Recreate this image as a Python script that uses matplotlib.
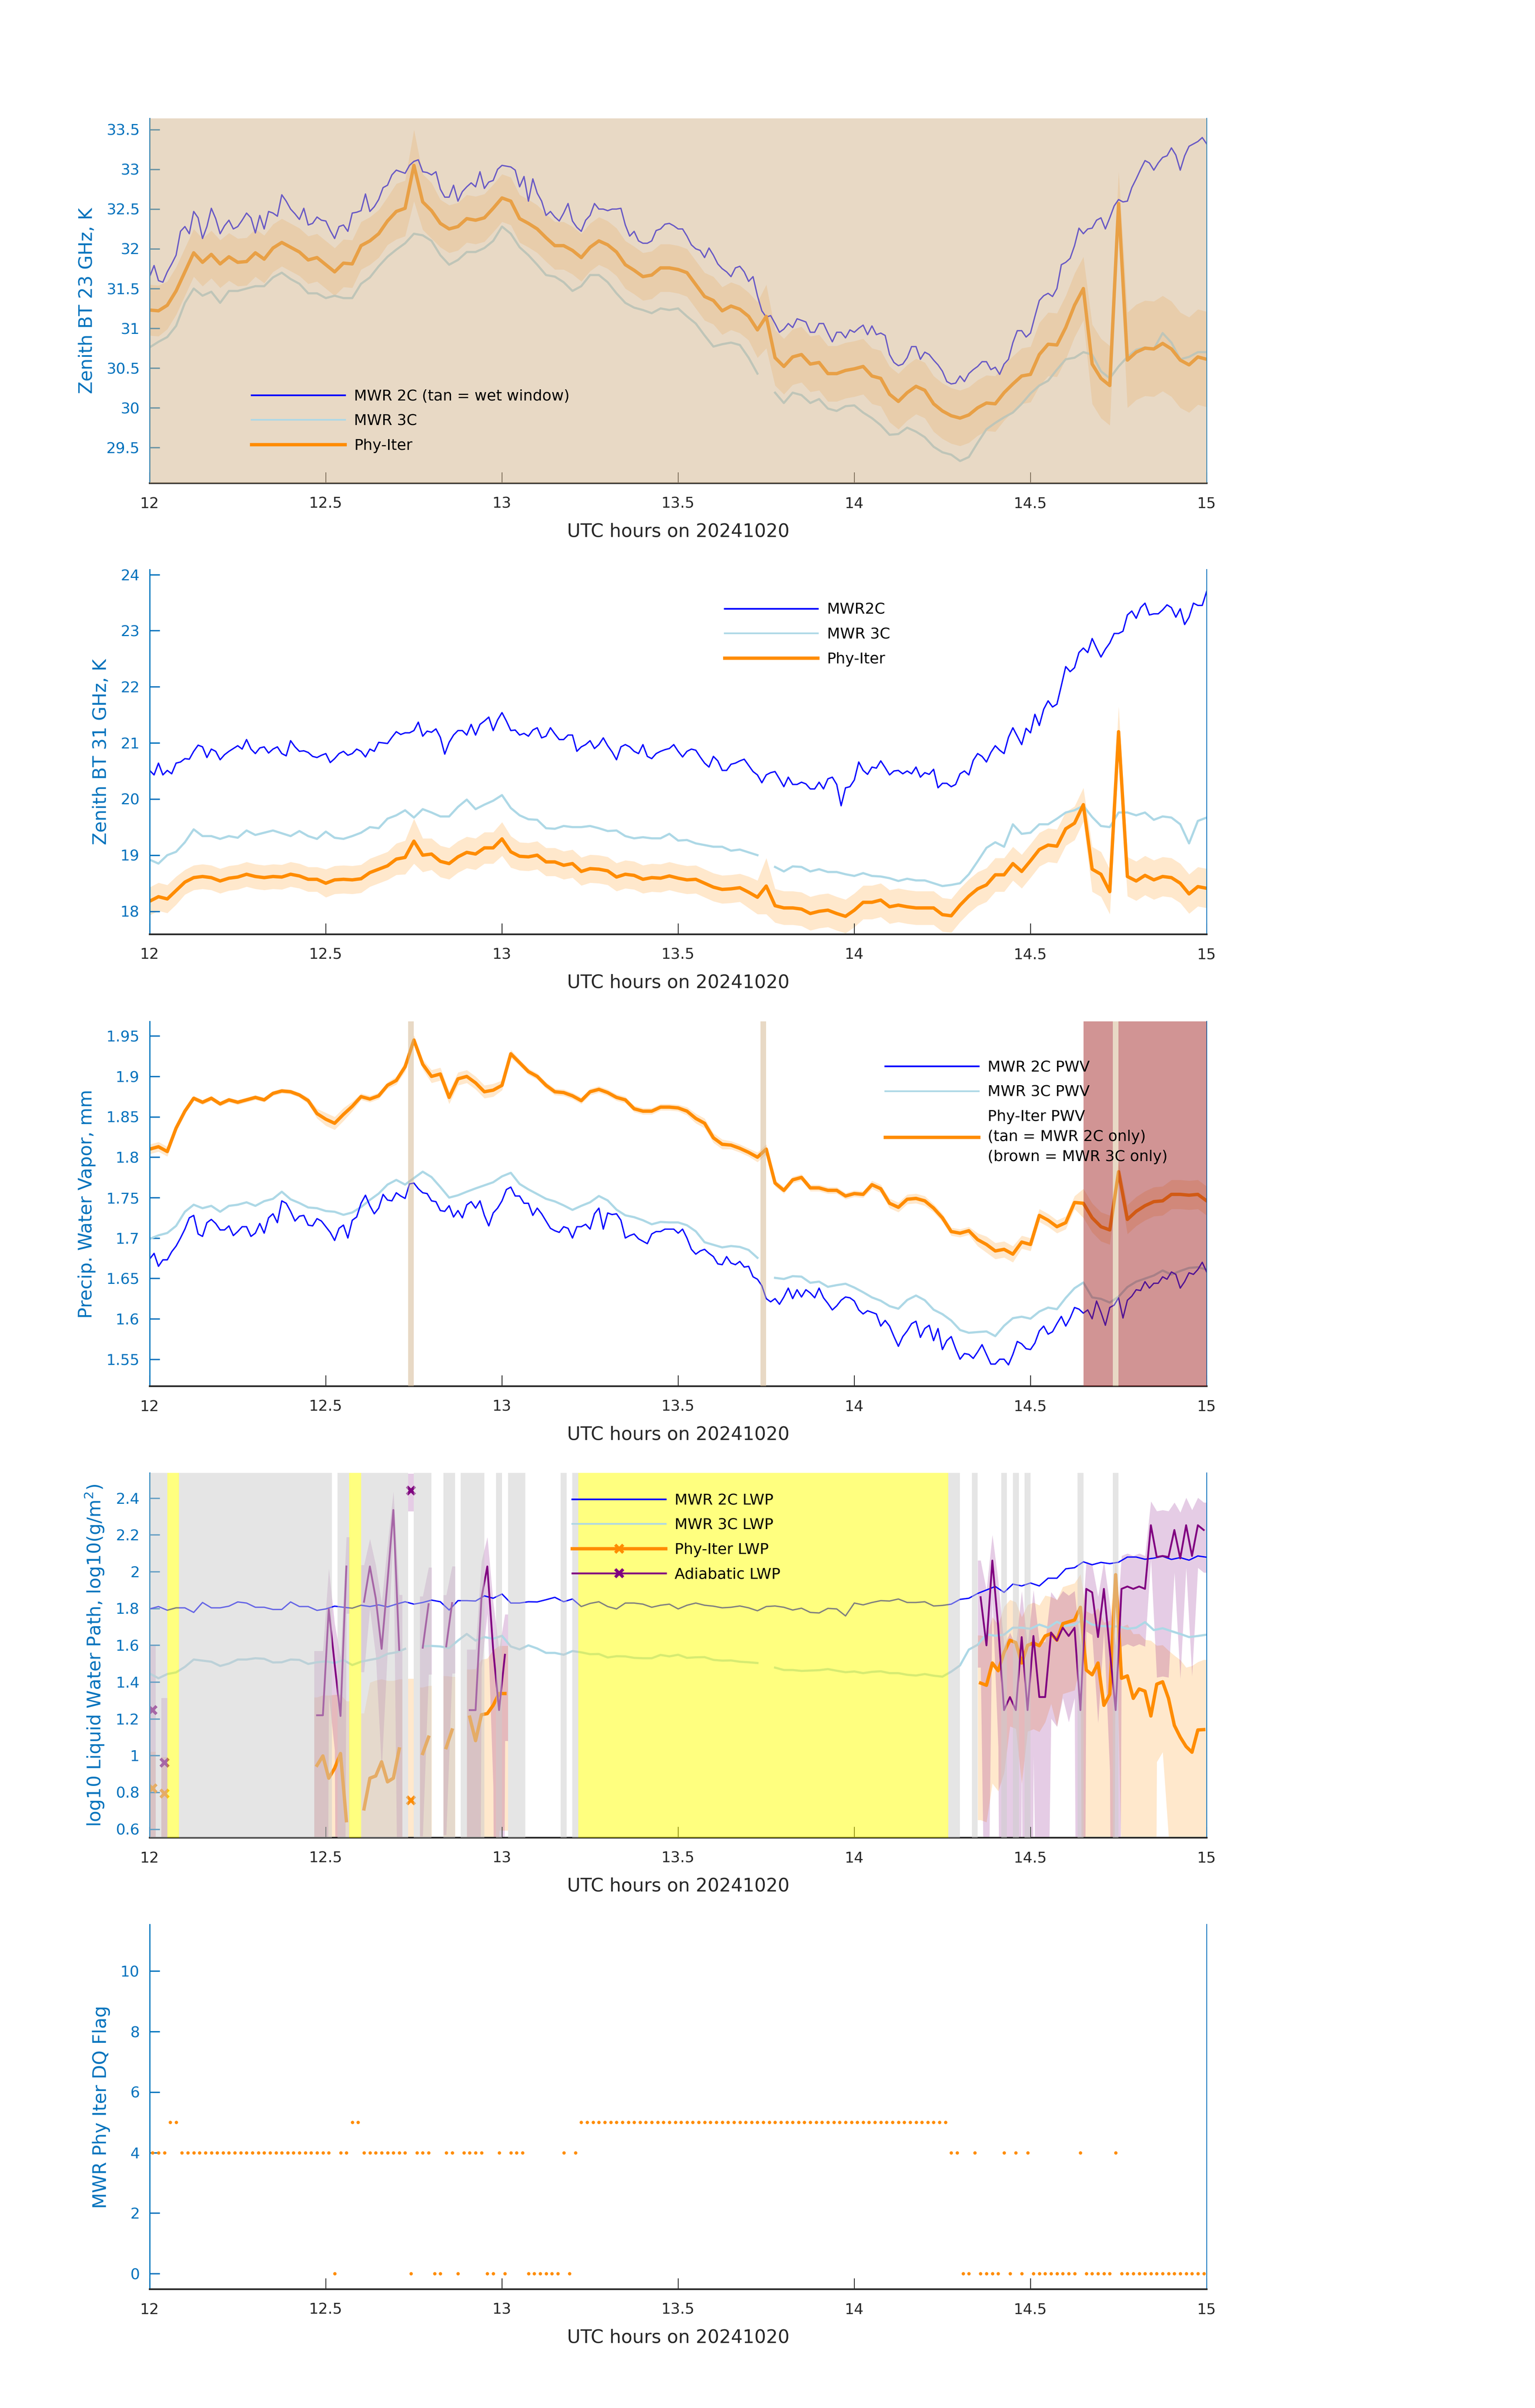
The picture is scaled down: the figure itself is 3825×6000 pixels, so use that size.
import numpy as np
import matplotlib
matplotlib.use("Agg")
import matplotlib.pyplot as plt
from matplotlib.lines import Line2D
from matplotlib.ticker import FuncFormatter

plt.rcParams['font.family'] = ['DejaVu Sans']

# ======================= DATA =======================
# Most traces sampled every 0.025 h (121 samples); the MWR 2C BT/PWV traces every 0.0125 h (241)
hours_grid = np.linspace(12.0, 15.0, 121)
hours_fine = np.linspace(12.0, 15.0, 241)

# ---- Panel 1 : zenith BT 23 GHz (K)
p1_mwr2c = [31.65, 31.79, 31.60, 31.58, 31.71, 31.81, 31.92, 32.22, 32.28, 32.19, 32.47, 32.39, 32.13, 32.28, 32.51, 32.38, 32.19, 32.29, 32.36, 32.25,
            32.28, 32.36, 32.45, 32.39, 32.20, 32.42, 32.25, 32.47, 32.45, 32.41, 32.68, 32.60, 32.50, 32.44, 32.37, 32.51, 32.30, 32.32, 32.40, 32.36,
            32.35, 32.23, 32.13, 32.28, 32.30, 32.22, 32.45, 32.46, 32.48, 32.69, 32.47, 32.53, 32.62, 32.77, 32.80, 32.93, 32.99, 32.97, 32.95, 33.05,
            33.10, 33.12, 32.97, 32.96, 32.93, 32.97, 32.75, 32.65, 32.65, 32.80, 32.60, 32.72, 32.78, 32.83, 32.78, 32.97, 32.76, 32.84, 32.86, 33.00,
            33.05, 33.04, 33.03, 32.99, 32.78, 32.91, 32.60, 32.88, 32.70, 32.60, 32.42, 32.47, 32.40, 32.35, 32.45, 32.57, 32.35, 32.27, 32.22, 32.36,
            32.42, 32.57, 32.50, 32.50, 32.48, 32.50, 32.50, 32.51, 32.30, 32.16, 32.22, 32.10, 32.07, 32.07, 32.10, 32.23, 32.25, 32.31, 32.32, 32.29,
            32.25, 32.25, 32.16, 32.05, 32.00, 31.98, 31.89, 32.01, 31.92, 31.81, 31.75, 31.71, 31.65, 31.76, 31.78, 31.71, 31.59, 31.65, 31.41, 31.22,
            31.14, 31.16, 31.06, 30.95, 30.99, 31.06, 31.01, 31.12, 31.10, 31.08, 30.95, 30.95, 31.06, 31.06, 30.94, 30.83, 30.95, 30.95, 30.88, 30.98,
            30.95, 31.00, 31.04, 30.92, 31.03, 30.92, 30.94, 30.91, 30.67, 30.57, 30.53, 30.55, 30.63, 30.77, 30.77, 30.61, 30.70, 30.67, 30.60, 30.54,
            30.46, 30.33, 30.30, 30.31, 30.40, 30.33, 30.43, 30.48, 30.52, 30.58, 30.58, 30.48, 30.51, 30.42, 30.55, 30.61, 30.82, 30.97, 30.97, 30.89,
            30.94, 31.15, 31.35, 31.41, 31.44, 31.40, 31.50, 31.80, 31.83, 31.88, 32.04, 32.26, 32.19, 32.25, 32.26, 32.36, 32.39, 32.25, 32.39, 32.54,
            32.62, 32.59, 32.60, 32.77, 32.88, 33.00, 33.11, 33.08, 32.99, 33.08, 33.15, 33.17, 33.27, 33.18, 32.99, 33.17, 33.29, 33.32, 33.35, 33.40,
            33.32]
p1_mwr3c = [30.76, 30.83, 30.89, 31.03, 31.32, 31.50, 31.41, 31.46, 31.32, 31.47,
            31.47, 31.50, 31.53, 31.53, 31.64, 31.70, 31.62, 31.56, 31.44, 31.44,
            31.38, 31.41, 31.38, 31.38, 31.56, 31.64, 31.78, 31.90, 31.99, 32.07,
            32.19, 32.17, 32.10, 31.92, 31.80, 31.86, 31.96, 31.96, 32.01, 32.10,
            32.28, 32.19, 32.02, 31.92, 31.80, 31.67, 31.65, 31.58, 31.47, 31.53,
            31.67, 31.67, 31.58, 31.44, 31.32, 31.26, 31.23, 31.19, 31.25, 31.23,
            31.25, 31.15, 31.06, 30.91, 30.77, 30.80, 30.82, 30.79, 30.63, 30.43,
            np.nan, 30.19, 30.06, 30.19, 30.16, 30.06, 30.11, 29.99, 29.96, 30.02,
            30.03, 29.94, 29.87, 29.78, 29.66, 29.67, 29.75, 29.70, 29.63, 29.51,
            29.44, 29.41, 29.33, 29.38, 29.56, 29.73, 29.81, 29.88, 29.94, 30.05,
            30.18, 30.28, 30.34, 30.48, 30.61, 30.63, 30.70, 30.67, 30.46, 30.37,
            30.52, 30.64, 30.73, 30.76, 30.74, 30.94, 30.82, 30.61, 30.64, 30.70, 30.70]
p1_phy = [31.23, 31.22, 31.29, 31.47, 31.71, 31.95, 31.83, 31.93, 31.81, 31.90,
          31.83, 31.84, 31.95, 31.87, 32.01, 32.08, 32.02, 31.96, 31.86, 31.89,
          31.80, 31.71, 31.82, 31.81, 32.04, 32.10, 32.19, 32.35, 32.47, 32.51,
          33.05, 32.59, 32.48, 32.32, 32.25, 32.28, 32.38, 32.36, 32.39, 32.51,
          32.64, 32.60, 32.38, 32.32, 32.25, 32.14, 32.04, 32.04, 31.98, 31.89,
          32.02, 32.10, 32.05, 31.96, 31.80, 31.73, 31.65, 31.67, 31.76, 31.76,
          31.74, 31.70, 31.55, 31.40, 31.35, 31.22, 31.28, 31.24, 31.15, 30.98,
          31.15, 30.63, 30.52, 30.64, 30.67, 30.55, 30.57, 30.43, 30.43, 30.47,
          30.49, 30.52, 30.40, 30.37, 30.17, 30.08, 30.19, 30.27, 30.22, 30.05,
          29.96, 29.90, 29.87, 29.91, 30.00, 30.06, 30.05, 30.19, 30.30, 30.40,
          30.42, 30.67, 30.80, 30.79, 31.01, 31.29, 31.50, 30.55, 30.37, 30.28,
          32.57, 30.60, 30.70, 30.75, 30.74, 30.81, 30.74, 30.60, 30.54, 30.64, 30.61]
p1_phy_err = [0.32, 0.32, 0.30, 0.30, 0.30, 0.30, 0.30, 0.30, 0.30, 0.30,
              0.30, 0.30, 0.30, 0.30, 0.30, 0.30, 0.30, 0.30, 0.30, 0.30,
              0.30, 0.30, 0.30, 0.30, 0.30, 0.30, 0.30, 0.30, 0.35, 0.35,
              0.45, 0.35, 0.35, 0.30, 0.30, 0.30, 0.30, 0.30, 0.30, 0.30,
              0.30, 0.30, 0.30, 0.30, 0.30, 0.30, 0.30, 0.30, 0.30, 0.30,
              0.30, 0.30, 0.30, 0.30, 0.30, 0.30, 0.30, 0.30, 0.30, 0.30,
              0.30, 0.30, 0.30, 0.30, 0.30, 0.30, 0.30, 0.30, 0.30, 0.35,
              0.40, 0.35, 0.35, 0.35, 0.35, 0.35, 0.35, 0.35, 0.35, 0.35,
              0.35, 0.35, 0.35, 0.35, 0.35, 0.35, 0.35, 0.35, 0.35, 0.35,
              0.35, 0.35, 0.35, 0.35, 0.35, 0.35, 0.35, 0.35, 0.35, 0.35,
              0.35, 0.40, 0.40, 0.40, 0.40, 0.40, 0.40, 0.50, 0.50, 0.50,
              0.40, 0.60, 0.60, 0.60, 0.60, 0.60, 0.60, 0.60, 0.60, 0.60, 0.60]

# ---- Panel 2 : zenith BT 31 GHz (K)
p2_mwr2c = [20.51, 20.43, 20.64, 20.43, 20.51, 20.45, 20.64, 20.66, 20.72, 20.71, 20.85, 20.96, 20.93, 20.74, 20.89, 20.85, 20.70, 20.79, 20.85, 20.90,
            20.95, 20.89, 21.06, 20.89, 20.81, 20.91, 20.93, 20.82, 20.89, 20.93, 20.81, 20.77, 21.04, 20.93, 20.85, 20.86, 20.83, 20.76, 20.74, 20.78,
            20.81, 20.65, 20.72, 20.81, 20.85, 20.78, 20.81, 20.89, 20.85, 20.75, 20.89, 20.85, 21.01, 21.00, 20.99, 21.10, 21.20, 21.15, 21.18, 21.18,
            21.22, 21.37, 21.12, 21.21, 21.19, 21.25, 21.10, 20.80, 21.01, 21.14, 21.22, 21.22, 21.14, 21.33, 21.14, 21.33, 21.39, 21.46, 21.22, 21.41,
            21.54, 21.39, 21.22, 21.23, 21.14, 21.17, 21.12, 21.23, 21.27, 21.09, 21.12, 21.27, 21.16, 21.06, 21.06, 21.14, 21.14, 20.85, 20.93, 20.97,
            21.04, 20.90, 20.97, 21.09, 20.95, 20.84, 20.70, 20.93, 20.97, 20.93, 20.85, 20.81, 20.97, 20.76, 20.72, 20.81, 20.85, 20.88, 20.90, 20.97,
            20.85, 20.75, 20.85, 20.89, 20.87, 20.75, 20.64, 20.57, 20.76, 20.68, 20.51, 20.51, 20.62, 20.64, 20.68, 20.71, 20.60, 20.49, 20.43, 20.29,
            20.43, 20.47, 20.49, 20.36, 20.22, 20.39, 20.26, 20.26, 20.30, 20.27, 20.18, 20.18, 20.30, 20.18, 20.36, 20.39, 20.26, 19.88, 20.20, 20.22,
            20.34, 20.66, 20.51, 20.44, 20.57, 20.55, 20.68, 20.56, 20.43, 20.50, 20.51, 20.45, 20.50, 20.45, 20.57, 20.39, 20.47, 20.44, 20.53, 20.20,
            20.28, 20.28, 20.22, 20.26, 20.45, 20.50, 20.43, 20.69, 20.81, 20.76, 20.66, 20.83, 20.95, 20.87, 20.81, 21.10, 21.27, 21.12, 20.97, 21.26,
            21.18, 21.51, 21.31, 21.60, 21.75, 21.64, 21.69, 22.02, 22.36, 22.27, 22.34, 22.61, 22.69, 22.61, 22.86, 22.69, 22.53, 22.67, 22.78, 22.95,
            22.95, 22.99, 23.28, 23.35, 23.22, 23.41, 23.49, 23.28, 23.30, 23.30, 23.37, 23.46, 23.41, 23.24, 23.39, 23.11, 23.24, 23.49, 23.45, 23.45,
            23.70]
p2_mwr3c = [18.92, 18.85, 19.00, 19.06, 19.23, 19.46, 19.34, 19.34, 19.29, 19.34,
            19.31, 19.44, 19.36, 19.40, 19.44, 19.39, 19.34, 19.43, 19.34, 19.29,
            19.42, 19.31, 19.29, 19.34, 19.40, 19.50, 19.48, 19.65, 19.71, 19.80,
            19.67, 19.82, 19.76, 19.69, 19.69, 19.86, 19.99, 19.82, 19.90, 19.97,
            20.07, 19.84, 19.71, 19.64, 19.63, 19.48, 19.47, 19.52, 19.50, 19.50,
            19.52, 19.48, 19.43, 19.44, 19.34, 19.30, 19.32, 19.30, 19.30, 19.38,
            19.26, 19.27, 19.21, 19.18, 19.15, 19.15, 19.08, 19.10, 19.05, 19.00,
            np.nan, 18.79, 18.71, 18.80, 18.79, 18.71, 18.75, 18.70, 18.70, 18.66,
            18.63, 18.68, 18.63, 18.62, 18.59, 18.54, 18.58, 18.55, 18.55, 18.50,
            18.45, 18.47, 18.50, 18.66, 18.89, 19.13, 19.23, 19.15, 19.55, 19.38,
            19.40, 19.55, 19.55, 19.65, 19.76, 19.80, 19.88, 19.68, 19.52, 19.50,
            19.76, 19.76, 19.71, 19.76, 19.63, 19.69, 19.67, 19.55, 19.21, 19.61, 19.67]
p2_phy = [18.18, 18.26, 18.22, 18.37, 18.52, 18.60, 18.62, 18.60, 18.54, 18.59,
          18.61, 18.66, 18.62, 18.60, 18.62, 18.61, 18.66, 18.63, 18.57, 18.57,
          18.50, 18.56, 18.57, 18.56, 18.58, 18.69, 18.75, 18.81, 18.93, 18.96,
          19.25, 19.00, 19.02, 18.89, 18.85, 18.97, 19.05, 19.02, 19.13, 19.13,
          19.29, 19.06, 18.98, 18.97, 19.00, 18.88, 18.88, 18.82, 18.85, 18.71,
          18.76, 18.75, 18.72, 18.61, 18.66, 18.64, 18.57, 18.60, 18.59, 18.63,
          18.59, 18.56, 18.57, 18.50, 18.43, 18.39, 18.40, 18.42, 18.34, 18.25,
          18.45, 18.10, 18.06, 18.06, 18.04, 17.96, 18.00, 18.02, 17.96, 17.91,
          18.02, 18.16, 18.16, 18.20, 18.08, 18.11, 18.08, 18.06, 18.06, 18.06,
          17.94, 17.92, 18.11, 18.27, 18.40, 18.47, 18.65, 18.65, 18.85, 18.71,
          18.90, 19.10, 19.18, 19.16, 19.47, 19.57, 19.90, 18.75, 18.66, 18.35,
          21.20, 18.62, 18.54, 18.64, 18.56, 18.62, 18.60, 18.50, 18.31, 18.44, 18.41]
p2_phy_err = [0.25, 0.25, 0.25, 0.25, 0.22, 0.22, 0.22, 0.22, 0.22, 0.22,
              0.22, 0.22, 0.22, 0.22, 0.22, 0.22, 0.22, 0.22, 0.22, 0.22,
              0.25, 0.25, 0.25, 0.25, 0.25, 0.25, 0.25, 0.25, 0.28, 0.30,
              0.40, 0.30, 0.28, 0.28, 0.28, 0.28, 0.28, 0.28, 0.28, 0.28,
              0.30, 0.28, 0.25, 0.25, 0.25, 0.25, 0.25, 0.25, 0.25, 0.25,
              0.25, 0.25, 0.25, 0.25, 0.25, 0.25, 0.25, 0.25, 0.25, 0.25,
              0.25, 0.25, 0.25, 0.25, 0.25, 0.25, 0.25, 0.25, 0.28, 0.30,
              0.50, 0.30, 0.30, 0.30, 0.30, 0.30, 0.30, 0.30, 0.30, 0.30,
              0.30, 0.30, 0.30, 0.30, 0.30, 0.30, 0.30, 0.30, 0.30, 0.30,
              0.30, 0.30, 0.30, 0.30, 0.30, 0.30, 0.30, 0.30, 0.30, 0.30,
              0.30, 0.30, 0.30, 0.30, 0.30, 0.30, 0.30, 0.40, 0.40, 0.40,
              0.45, 0.35, 0.35, 0.35, 0.35, 0.35, 0.35, 0.35, 0.35, 0.35, 0.35]

# ---- Panel 3 : precipitable water vapour (mm)
p3_mwr2c = [1.674, 1.681, 1.665, 1.673, 1.673, 1.683, 1.690, 1.700, 1.711, 1.725, 1.728, 1.705, 1.702, 1.719, 1.723, 1.718, 1.710, 1.710, 1.715, 1.703,
            1.708, 1.714, 1.714, 1.702, 1.706, 1.718, 1.706, 1.725, 1.730, 1.719, 1.746, 1.743, 1.733, 1.721, 1.727, 1.728, 1.716, 1.715, 1.724, 1.721,
            1.714, 1.707, 1.697, 1.712, 1.716, 1.700, 1.722, 1.726, 1.743, 1.753, 1.740, 1.730, 1.737, 1.754, 1.747, 1.746, 1.756, 1.752, 1.749, 1.767,
            1.768, 1.761, 1.756, 1.755, 1.746, 1.745, 1.734, 1.733, 1.740, 1.726, 1.734, 1.725, 1.741, 1.745, 1.737, 1.746, 1.728, 1.715, 1.731, 1.737,
            1.746, 1.760, 1.763, 1.752, 1.752, 1.743, 1.743, 1.728, 1.737, 1.730, 1.721, 1.712, 1.709, 1.707, 1.714, 1.712, 1.700, 1.714, 1.714, 1.717,
            1.711, 1.730, 1.737, 1.711, 1.731, 1.729, 1.730, 1.722, 1.700, 1.703, 1.705, 1.699, 1.696, 1.693, 1.705, 1.708, 1.708, 1.711, 1.711, 1.711,
            1.706, 1.711, 1.700, 1.686, 1.680, 1.684, 1.686, 1.681, 1.677, 1.668, 1.667, 1.677, 1.669, 1.667, 1.671, 1.664, 1.665, 1.652, 1.649, 1.641,
            1.625, 1.621, 1.625, 1.618, 1.627, 1.638, 1.625, 1.636, 1.627, 1.636, 1.632, 1.626, 1.638, 1.626, 1.619, 1.611, 1.616, 1.623, 1.627, 1.626,
            1.622, 1.611, 1.606, 1.610, 1.608, 1.606, 1.591, 1.598, 1.591, 1.578, 1.566, 1.578, 1.585, 1.594, 1.597, 1.577, 1.588, 1.592, 1.573, 1.588,
            1.562, 1.573, 1.578, 1.563, 1.550, 1.557, 1.556, 1.551, 1.559, 1.568, 1.556, 1.544, 1.544, 1.550, 1.550, 1.543, 1.556, 1.572, 1.569, 1.563,
            1.562, 1.570, 1.585, 1.591, 1.581, 1.584, 1.594, 1.603, 1.591, 1.601, 1.614, 1.612, 1.607, 1.611, 1.600, 1.622, 1.608, 1.592, 1.614, 1.617,
            1.626, 1.601, 1.623, 1.628, 1.636, 1.635, 1.646, 1.638, 1.644, 1.644, 1.652, 1.649, 1.658, 1.655, 1.638, 1.646, 1.657, 1.655, 1.661, 1.670,
            1.658]
p3_mwr3c = [1.6989, 1.7033, 1.7062, 1.7150, 1.7325, 1.7412, 1.7369, 1.7398, 1.7325, 1.7398,
            1.7412, 1.7442, 1.7398, 1.7456, 1.7485, 1.7573, 1.7479, 1.7433, 1.7378, 1.7369,
            1.7334, 1.7325, 1.7287, 1.7316, 1.7383, 1.7471, 1.7550, 1.7661, 1.7719, 1.7661,
            1.7742, 1.7821, 1.7754, 1.7631, 1.7500, 1.7529, 1.7573, 1.7614, 1.7652, 1.7690,
            1.7763, 1.7807, 1.7669, 1.7602, 1.7544, 1.7485, 1.7453, 1.7404, 1.7348, 1.7398,
            1.7442, 1.7520, 1.7465, 1.7351, 1.7281, 1.7258, 1.7220, 1.7170, 1.7199, 1.7193,
            1.7193, 1.7158, 1.7083, 1.6948, 1.6916, 1.6884, 1.6901, 1.6890, 1.6852, 1.6755,
            np.nan, 1.6507, 1.6493, 1.6528, 1.6522, 1.6446, 1.6460, 1.6396, 1.6417, 1.6434,
            1.6387, 1.6329, 1.6265, 1.6224, 1.6157, 1.6125, 1.6233, 1.6288, 1.6230, 1.6113,
            1.6058, 1.5979, 1.5862, 1.5827, 1.5836, 1.5844, 1.5786, 1.5914, 1.6008, 1.6026,
            1.6002, 1.6090, 1.6139, 1.6119, 1.6259, 1.6379, 1.6449, 1.6265, 1.6247, 1.6201,
            1.6274, 1.6393, 1.6460, 1.6498, 1.6536, 1.6598, 1.6548, 1.6592, 1.6630, 1.6639, 1.6610]
p3_phy = [1.810, 1.813, 1.807, 1.836, 1.857, 1.873, 1.868, 1.873, 1.866, 1.871,
          1.868, 1.871, 1.874, 1.871, 1.879, 1.882, 1.881, 1.877, 1.870, 1.854,
          1.847, 1.842, 1.853, 1.863, 1.875, 1.872, 1.876, 1.889, 1.895, 1.912,
          1.945, 1.915, 1.900, 1.903, 1.874, 1.897, 1.900, 1.892, 1.881, 1.883,
          1.889, 1.928, 1.917, 1.906, 1.900, 1.889, 1.881, 1.880, 1.876, 1.870,
          1.881, 1.884, 1.880, 1.874, 1.871, 1.860, 1.857, 1.857, 1.862, 1.862,
          1.861, 1.857, 1.848, 1.842, 1.824, 1.816, 1.815, 1.811, 1.806, 1.800,
          1.810, 1.768, 1.759, 1.772, 1.775, 1.762, 1.762, 1.759, 1.759, 1.752,
          1.755, 1.754, 1.766, 1.761, 1.743, 1.738, 1.748, 1.749, 1.746, 1.737,
          1.725, 1.708, 1.706, 1.709, 1.698, 1.692, 1.684, 1.686, 1.680, 1.695,
          1.692, 1.728, 1.722, 1.714, 1.719, 1.744, 1.743, 1.725, 1.714, 1.710,
          1.782, 1.723, 1.733, 1.740, 1.745, 1.746, 1.754, 1.754, 1.753, 1.754, 1.746]
p3_phy_err = [0.006, 0.006, 0.006, 0.004, 0.003, 0.003, 0.003, 0.003, 0.003, 0.003,
              0.003, 0.003, 0.003, 0.003, 0.003, 0.003, 0.003, 0.003, 0.004, 0.006,
              0.008, 0.008, 0.008, 0.006, 0.004, 0.004, 0.004, 0.004, 0.005, 0.006,
              0.006, 0.006, 0.008, 0.008, 0.008, 0.008, 0.008, 0.008, 0.008, 0.008,
              0.006, 0.005, 0.004, 0.004, 0.004, 0.004, 0.004, 0.004, 0.004, 0.004,
              0.004, 0.004, 0.004, 0.004, 0.004, 0.004, 0.004, 0.004, 0.004, 0.004,
              0.004, 0.005, 0.006, 0.006, 0.006, 0.006, 0.005, 0.005, 0.005, 0.006,
              0.006, 0.004, 0.004, 0.004, 0.004, 0.004, 0.004, 0.004, 0.004, 0.004,
              0.004, 0.004, 0.005, 0.005, 0.006, 0.006, 0.006, 0.006, 0.006, 0.005,
              0.005, 0.005, 0.005, 0.005, 0.008, 0.010, 0.010, 0.010, 0.010, 0.008,
              0.008, 0.008, 0.008, 0.008, 0.008, 0.008, 0.018, 0.018, 0.018, 0.018,
              0.012, 0.018, 0.018, 0.018, 0.018, 0.018, 0.018, 0.018, 0.018, 0.018, 0.018]
# minutes (index after 12:00) retrieved with one radiometer only
pwv_2c_only_minutes = [44, 104, 164]
pwv_3c_only_minutes = [159, 160, 161, 162, 163, 165, 166, 167, 168, 169, 170, 171,
                       172, 173, 174, 175, 176, 177, 178, 179]

# ---- Panel 4 : log10 LWP
p4_mwr2c = [1.797, 1.810, 1.790, 1.803, 1.803, 1.778, 1.832, 1.803, 1.803, 1.812,
            1.835, 1.829, 1.806, 1.806, 1.794, 1.794, 1.835, 1.810, 1.810, 1.789,
            1.797, 1.812, 1.806, 1.801, 1.817, 1.810, 1.819, 1.808, 1.823, 1.836,
            1.823, 1.832, 1.845, 1.836, 1.791, 1.842, 1.842, 1.840, 1.868, 1.855,
            1.878, 1.829, 1.829, 1.836, 1.835, 1.847, 1.860, 1.836, 1.851, 1.810,
            1.827, 1.836, 1.810, 1.797, 1.829, 1.829, 1.823, 1.806, 1.817, 1.823,
            1.797, 1.817, 1.829, 1.817, 1.812, 1.803, 1.806, 1.813, 1.803, 1.787,
            1.810, 1.813, 1.806, 1.791, 1.801, 1.778, 1.775, 1.800, 1.797, 1.759,
            1.829, 1.819, 1.832, 1.842, 1.840, 1.851, 1.832, 1.832, 1.836, 1.813,
            1.816, 1.823, 1.849, 1.855, 1.881, 1.900, 1.919, 1.887, 1.932, 1.922,
            1.938, 1.922, 1.964, 1.964, 2.015, 2.021, 2.053, 2.037, 2.050, 2.043,
            2.051, 2.079, 2.079, 2.067, 2.073, 2.083, 2.066, 2.076, 2.062, 2.085, 2.078]
p4_mwr3c = [1.446, 1.420, 1.443, 1.452, 1.482, 1.522, 1.516, 1.510, 1.487, 1.500,
            1.522, 1.522, 1.529, 1.526, 1.506, 1.507, 1.522, 1.520, 1.498, 1.507,
            1.512, 1.503, 1.519, 1.492, 1.510, 1.520, 1.529, 1.553, 1.561, 1.580,
            np.nan, 1.594, 1.596, 1.593, 1.584, 1.625, 1.661, 1.625, 1.644, 1.635,
            1.651, 1.593, 1.577, 1.599, 1.582, 1.558, 1.558, 1.548, 1.568, 1.561,
            1.551, 1.552, 1.533, 1.540, 1.539, 1.531, 1.529, 1.529, 1.547, 1.539,
            1.548, 1.531, 1.534, 1.535, 1.520, 1.516, 1.517, 1.510, 1.507, 1.503,
            np.nan, 1.478, 1.465, 1.465, 1.460, 1.462, 1.464, 1.470, 1.461, 1.453,
            1.457, 1.448, 1.455, 1.458, 1.448, 1.448, 1.439, 1.435, 1.443, 1.434,
            1.429, 1.456, 1.490, 1.576, 1.602, 1.659, 1.651, 1.657, 1.695, 1.695,
            1.689, 1.712, 1.695, 1.727, 1.704, 1.712, 1.740, 1.712, 1.704, 1.702,
            1.702, 1.689, 1.695, 1.725, 1.682, 1.692, 1.676, 1.661, 1.644, 1.650, 1.657]

# Phy-Iter / adiabatic LWP: one value per minute; dict key = first minute of a run
phy_lwp_runs = {
    0: [0.821],
    2: [0.793],
    28: [0.947, 0.998, 0.877, 0.931, 1.011, 0.646],
    36: [0.710, 0.877, 0.889, 0.966, 0.857, 0.877, 1.036],
    44: [0.757],
    46: [1.011, 1.100],
    50: [1.043, 1.139],
    54: [1.209, 1.081, 1.222, 1.228, 1.273, 1.337, 1.337],
    141: [1.394, 1.382, 1.503, 1.461, 1.560, 1.627, 1.614, 1.503, 1.599, 1.612,
          1.597, 1.650, 1.663, 1.627, 1.717, 1.727, 1.737, 1.806, 1.465, 1.439,
          1.503, 1.273, 1.333, 1.983, 1.420, 1.433, 1.311, 1.362, 1.350, 1.215,
          1.388, 1.401, 1.311, 1.164, 1.100, 1.049, 1.018, 1.139, 1.141],
}
phy_lwp_up_runs = {   # upper band offset (log10 units)
    0: [0.20],
    2: [0.20],
    28: [0.37, 0.33, 0.45, 0.40, 0.32, 0.65],
    36: [0.52, 0.52, 0.52, 0.45, 0.55, 0.53, 0.38],
    44: [0.66],
    46: [0.36, 0.28],
    50: [0.39, 0.29],
    54: [0.26, 0.39, 0.30, 0.30, 0.30, 0.26, 0.26],
    141: [0.26, 0.26, 0.25, 0.25, 0.25, 0.22, 0.22, 0.25, 0.22, 0.22,
          0.22, 0.22, 0.20, 0.22, 0.20, 0.20, 0.20, 0.18, 0.32, 0.33,
          0.30, 0.45, 0.40, 0.08, 0.28, 0.28, 0.35, 0.30, 0.28, 0.41,
          0.21, 0.20, 0.26, 0.38, 0.42, 0.43, 0.47, 0.37, 0.38],
}
adi_lwp_runs = {
    0: [1.247],
    2: [0.962],
    28: [1.219, 1.219, 1.797, 1.497, 1.215, 2.028],
    36: [1.836, 2.028, 1.855, 1.580, 1.945, 2.335, 1.574],
    44: [2.441],
    46: [1.586, 1.823],
    50: [1.593, 1.829],
    54: [1.247, 1.247, 1.855, 2.028, 1.574, 1.247, 1.548],
    141: [1.861, 1.599, 2.060, 1.701, 1.247, 1.318, 1.247, 1.644, 1.247, 1.650,
          1.318, 1.318, 1.669, 1.625, 1.695, 1.650, 1.695, 1.247, 1.906, 1.887,
          1.644, 1.906, 1.574, 1.247, 1.906, 1.919, 1.906, 1.919, 1.906, 2.252,
          2.079, 2.085, 2.079, 2.226, 2.072, 2.252, 2.085, 2.252, 2.226],
}
adi_lwp_up_runs = {
    0: [0.35],
    2: [0.35],
    28: [0.35, 0.35, 0.22, 0.22, 0.32, 0.16],
    36: [0.20, 0.15, 0.18, 0.25, 0.20, 0.10, 0.30],
    44: [0.09],
    46: [0.28, 0.20],
    50: [0.28, 0.20],
    54: [0.33, 0.33, 0.20, 0.16, 0.26, 0.33, 0.22],
    141: [0.20, 0.30, 0.14, 0.25, 0.35, 0.35, 0.35, 0.25, 0.35, 0.25,
          0.30, 0.30, 0.22, 0.22, 0.20, 0.22, 0.20, 0.35, 0.15, 0.15,
          0.22, 0.15, 0.25, 0.35, 0.18, 0.18, 0.18, 0.18, 0.18, 0.13,
          0.25, 0.25, 0.25, 0.15, 0.25, 0.15, 0.25, 0.15, 0.15],
}

# ---- Panel 5 : Phy-Iter data-quality flag, one per minute, as (flag, count) runs
dq_flag_runs = [(4, 3), (5, 2), (4, 26), (0, 1), (4, 2), (5, 2), (4, 8), (0, 1), (4, 3),
                (0, 2), (4, 2), (0, 1), (4, 4), (0, 2), (4, 1), (0, 1), (4, 3), (0, 6),
                (4, 1), (0, 1), (4, 1), (5, 63), (4, 2), (0, 2), (4, 1), (0, 4), (4, 1),
                (0, 1), (4, 1), (0, 1), (4, 1), (0, 8), (4, 1), (0, 5), (4, 1), (0, 15)]

# ======================= helpers =======================
N_MIN = 180
minute_t = 12.0 + (np.arange(N_MIN) + 0.5) / 60.0
dq_flag = np.concatenate([[f] * n for f, n in dq_flag_runs]).astype(float)


def from_runs(runs_dict):
    arr = np.full(N_MIN, np.nan)
    for k0, vals in runs_dict.items():
        arr[k0:k0 + len(vals)] = vals
    return arr


def contiguous(mask):
    idx = np.flatnonzero(mask)
    if idx.size == 0:
        return []
    return np.split(idx, np.flatnonzero(np.diff(idx) > 1) + 1)


def minute_spans(ax, mask, color, alpha=0.5):
    for r in contiguous(mask):
        ax.axvspan(12.0 + r[0] / 60.0, 12.0 + (r[-1] + 1) / 60.0, color=color,
                   alpha=alpha, lw=0, zorder=3)


def log_band(ax, t, y, up, color):
    hi = y + up
    lin_lo = 2.0 * 10 ** y - 10 ** hi
    lo = np.where(lin_lo > 0, np.log10(np.clip(lin_lo, 1e-9, None)), -5.0)
    half = 0.5 / 60.0
    for r in contiguous(np.isfinite(y)):
        tt = np.concatenate([[t[r[0]] - half], t[r], [t[r[-1]] + half]])
        hh = np.concatenate([[hi[r[0]]], hi[r], [hi[r[-1]]]])
        ll = np.concatenate([[lo[r[0]]], lo[r], [lo[r[-1]]]])
        ax.fill_between(tt, ll, hh, color=color, alpha=0.2, lw=0, zorder=1.5)


def isolated(y):
    f = np.isfinite(y)
    prev = np.concatenate([[False], f[:-1]])
    nxt = np.concatenate([f[1:], [False]])
    return list(np.flatnonzero(f & ~prev & ~nxt))


MBLUE = '#0072BD'
DARK = '#262626'
C2C = '#0000FF'
C3C = '#ADD8E6'
CORG = '#FF8C00'
CPUR = '#800080'
fmt = FuncFormatter(lambda v, p: f'{v:g}')


def style(ax, ylim, yticks, ylabel):
    ax.set_xlim(12, 15)
    ax.set_ylim(*ylim)
    ax.set_xticks([12, 12.5, 13, 13.5, 14, 14.5, 15])
    ax.xaxis.set_major_formatter(fmt)
    ax.set_yticks(yticks)
    ax.yaxis.set_major_formatter(fmt)
    ax.tick_params(axis='x', direction='in', length=6.5, width=0.5, colors=DARK,
                   labelsize=9, pad=8, top=False)
    ax.tick_params(axis='y', direction='in', length=6, width=0.8, colors=MBLUE,
                   labelsize=9, pad=6, right=False)
    ax.spines['top'].set_visible(False)
    ax.spines['left'].set_color(MBLUE)
    ax.spines['left'].set_linewidth(0.7)
    ax.spines['right'].set_color(MBLUE)
    ax.spines['right'].set_linewidth(0.5)
    ax.spines['bottom'].set_color(DARK)
    ax.spines['bottom'].set_linewidth(1.0)
    ax.set_xlabel('UTC hours on 20241020', fontsize=11, color=DARK, labelpad=7)
    ax.set_ylabel(ylabel, fontsize=11, color=MBLUE, labelpad=6)


def legend(ax, handles, labels, anchor):
    leg = ax.legend(handles, labels, loc='upper left', bbox_to_anchor=anchor,
                    frameon=False, fontsize=9, handlelength=6.2, handletextpad=0.6,
                    labelspacing=0.68, borderpad=0, borderaxespad=0, numpoints=1)
    for txt in leg.get_texts():
        txt.set_linespacing(1.5)
    leg.set_zorder(6)
    return leg


# ======================= figure =======================
fig = plt.figure(figsize=(12.75, 20), dpi=300)
L, W, H = 0.0975, 0.6886, 0.1515
bottoms = [0.7993, 0.6120, 0.4243, 0.2368, 0.0493]
axs = [fig.add_axes([L, b, W, H]) for b in bottoms]
t = hours_grid
tf = hours_fine

# ---- Panel 1
ax = axs[0]
y = np.array(p1_phy)
e = np.array(p1_phy_err)
ax.fill_between(t, y - e, y + e, color=CORG, alpha=0.2, lw=0, zorder=1.5)
ax.plot(t, p1_mwr3c, color=C3C, lw=1.3, zorder=2)
ax.plot(tf, p1_mwr2c, color=C2C, lw=0.8, zorder=2.1)
ax.plot(t, y, color=CORG, lw=2.0, zorder=2.2)
minute_spans(ax, np.ones(N_MIN, bool), '#D2B48C')
style(ax, (29.05, 33.64), np.arange(29.5, 33.51, 0.5), 'Zenith BT 23 GHz, K')
legend(ax, [Line2D([], [], color=C2C, lw=1.0), Line2D([], [], color=C3C, lw=1.0),
            Line2D([], [], color=CORG, lw=2.0)],
       ['MWR 2C (tan = wet window)', 'MWR 3C', 'Phy-Iter'], (0.0965, 0.258))

# ---- Panel 2
ax = axs[1]
y = np.array(p2_phy)
e = np.array(p2_phy_err)
ax.fill_between(t, y - e, y + e, color=CORG, alpha=0.2, lw=0, zorder=1.5)
ax.plot(t, p2_mwr3c, color=C3C, lw=1.3, zorder=2)
ax.plot(tf, p2_mwr2c, color=C2C, lw=0.8, zorder=2.1)
ax.plot(t, y, color=CORG, lw=2.0, zorder=2.2)
style(ax, (17.59, 24.09), np.arange(18, 24.1, 1), 'Zenith BT 31 GHz, K')
legend(ax, [Line2D([], [], color=C2C, lw=1.0), Line2D([], [], color=C3C, lw=1.0),
            Line2D([], [], color=CORG, lw=2.0)],
       ['MWR2C', 'MWR 3C', 'Phy-Iter'], (0.544, 0.909))

# ---- Panel 3
ax = axs[2]
y = np.array(p3_phy)
e = np.array(p3_phy_err)
ax.fill_between(t, y - e, y + e, color=CORG, alpha=0.2, lw=0, zorder=1.5)
ax.plot(t, p3_mwr3c, color=C3C, lw=1.3, zorder=2)
ax.plot(tf, p3_mwr2c, color=C2C, lw=0.8, zorder=2.1)
ax.plot(t, y, color=CORG, lw=2.0, zorder=2.2)
m2 = np.zeros(N_MIN, bool)
m2[pwv_2c_only_minutes] = True
m3 = np.zeros(N_MIN, bool)
m3[pwv_3c_only_minutes] = True
minute_spans(ax, m2, '#D2B48C')
minute_spans(ax, m3, '#A52A2A')
style(ax, (1.5165, 1.968), np.arange(1.55, 1.951, 0.05), 'Precip. Water Vapor, mm')
legend(ax, [Line2D([], [], color=C2C, lw=1.0), Line2D([], [], color=C3C, lw=1.0),
            Line2D([], [], color=CORG, lw=2.0)],
       ['MWR 2C PWV', 'MWR 3C PWV',
        'Phy-Iter PWV\n(tan = MWR 2C only)\n(brown = MWR 3C only)'], (0.696, 0.893))

# ---- Panel 4
ax = axs[3]
phy = from_runs(phy_lwp_runs)
phy_up = from_runs(phy_lwp_up_runs)
adi = from_runs(adi_lwp_runs)
adi_up = from_runs(adi_lwp_up_runs)
log_band(ax, minute_t, phy, phy_up, CORG)
log_band(ax, minute_t, adi, adi_up, CPUR)
ax.plot(t, p4_mwr3c, color=C3C, lw=1.3, zorder=2)
ax.plot(t, p4_mwr2c, color=C2C, lw=0.8, zorder=2.1)
ax.plot(minute_t, phy, color=CORG, lw=2.0, marker='x', ms=5, mew=1.8,
        markevery=isolated(phy), zorder=2.2)
ax.plot(minute_t, adi, color=CPUR, lw=1.1, marker='x', ms=5, mew=1.8,
        markevery=isolated(adi), zorder=2.3)
minute_spans(ax, dq_flag == 4, '#CCCCCC')
minute_spans(ax, dq_flag == 5, '#FFFF00')
style(ax, (0.553, 2.536), np.arange(0.6, 2.41, 0.2),
      r'log10 Liquid Water Path, log10(g/m$^2$)')
legend(ax, [Line2D([], [], color=C2C, lw=1.0), Line2D([], [], color=C3C, lw=1.0),
            Line2D([], [], color=CORG, lw=2.0, marker='x', ms=5, mew=1.8),
            Line2D([], [], color=CPUR, lw=1.1, marker='x', ms=5, mew=1.8)],
       ['MWR 2C LWP', 'MWR 3C LWP', 'Phy-Iter LWP', 'Adiabatic LWP'], (0.400, 0.944))

# ---- Panel 5
ax = axs[4]
ax.plot(minute_t, dq_flag, linestyle='none', marker='o', ms=2.0, color=CORG,
        mec='none', zorder=2)
style(ax, (-0.52, 11.54), np.arange(0, 10.1, 2), 'MWR Phy Iter DQ Flag')

fig.savefig('out.png', dpi=300)
